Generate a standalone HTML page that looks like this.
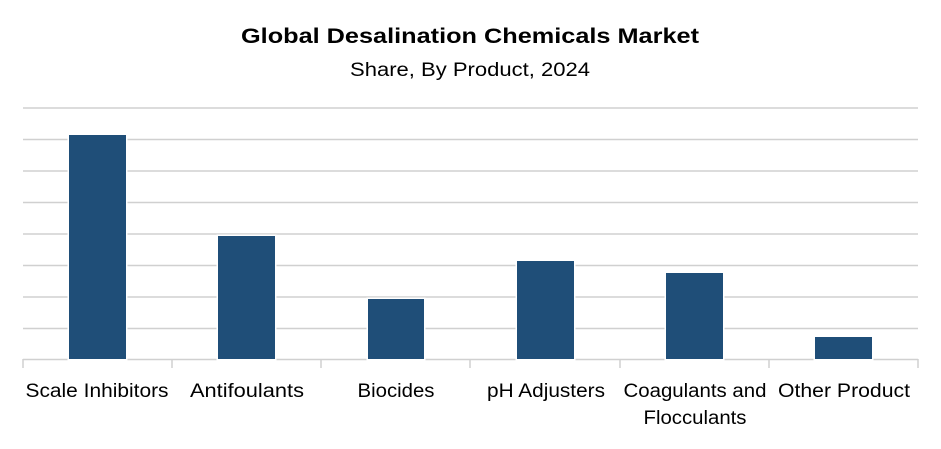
<!DOCTYPE html>
<html><head><style>
body{margin:0;background:#fff;}
svg text{font-family:"Liberation Sans",sans-serif;fill:#000;}
</style></head><body>
<svg width="941" height="444" xmlns="http://www.w3.org/2000/svg">
<text x="470" y="43" text-anchor="middle" font-size="21" font-weight="bold" textLength="458" lengthAdjust="spacingAndGlyphs">Global Desalination Chemicals Market</text>
<text x="470" y="76" text-anchor="middle" font-size="19" textLength="240" lengthAdjust="spacingAndGlyphs">Share, By Product, 2024</text>
<g stroke="#d0d0d0" stroke-width="1.5">
<line x1="23" x2="918" y1="108" y2="108"/>
<line x1="23" x2="918" y1="139.5" y2="139.5"/>
<line x1="23" x2="918" y1="171" y2="171"/>
<line x1="23" x2="918" y1="202.5" y2="202.5"/>
<line x1="23" x2="918" y1="234" y2="234"/>
<line x1="23" x2="918" y1="265.5" y2="265.5"/>
<line x1="23" x2="918" y1="297" y2="297"/>
<line x1="23" x2="918" y1="328.5" y2="328.5"/>
<line x1="23" x2="918" y1="359.5" y2="359.5"/>
<line x1="23" x2="23" y1="359" y2="368"/>
<line x1="172" x2="172" y1="359" y2="368"/>
<line x1="321" x2="321" y1="359" y2="368"/>
<line x1="470" x2="470" y1="359" y2="368"/>
<line x1="620" x2="620" y1="359" y2="368"/>
<line x1="769" x2="769" y1="359" y2="368"/>
<line x1="918" x2="918" y1="359" y2="368"/>
</g>
<g fill="#1f4e78" stroke="#fff" stroke-width="3" paint-order="stroke">
<rect x="69" y="135" width="57" height="224"/>
<rect x="218" y="236" width="57" height="123"/>
<rect x="368" y="299" width="56" height="60"/>
<rect x="517" y="261" width="57" height="98"/>
<rect x="666" y="273" width="57" height="86"/>
<rect x="815" y="337" width="57" height="22"/>
</g>
<g font-size="19" text-anchor="middle" lengthAdjust="spacingAndGlyphs">
<text x="97" y="397" textLength="143" lengthAdjust="spacingAndGlyphs">Scale Inhibitors</text>
<text x="247" y="397" textLength="114" lengthAdjust="spacingAndGlyphs">Antifoulants</text>
<text x="396" y="397" textLength="77" lengthAdjust="spacingAndGlyphs">Biocides</text>
<text x="546" y="397" textLength="118" lengthAdjust="spacingAndGlyphs">pH Adjusters</text>
<text x="695" y="397" textLength="143" lengthAdjust="spacingAndGlyphs">Coagulants and</text>
<text x="695" y="424" textLength="103" lengthAdjust="spacingAndGlyphs">Flocculants</text>
<text x="844" y="397" textLength="132" lengthAdjust="spacingAndGlyphs">Other Product</text>
</g>
</svg>
</body></html>
